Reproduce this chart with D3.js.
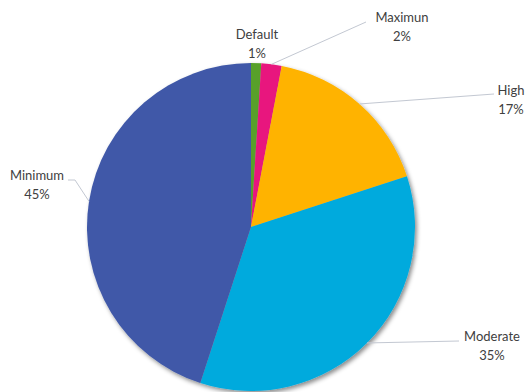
<!DOCTYPE html>
<html>
<head>
<meta charset="utf-8">
<script src="https://cdn.jsdelivr.net/npm/d3@7"></script>
<style>
  html, body { margin: 0; padding: 0; background: #fff; }
  svg { display: block; }
  .lbl { font-family: Lato, "Open Sans", sans-serif; font-size: 13px; fill: #404040; }
</style>
</head>
<body>
<svg id="chart" width="526" height="392"></svg>
<script>
// Slice data, clockwise from 12 o'clock
const categories = ["Default", "Maximun", "High", "Moderate", "Minimum"];
const shares = [1, 2, 17, 35, 45];
const colors = ["#58a02c", "#e8177e", "#ffb300", "#00aadd", "#4059a8"];

const width = 526, height = 392;
const cx = 251, cy = 227, radius = 164;

const svg = d3.select("#chart");

// soft drop shadow under the pie
const defs = svg.append("defs");
const f = defs.append("filter").attr("id", "shadow")
  .attr("x", "-10%").attr("y", "-10%").attr("width", "120%").attr("height", "120%");
f.append("feDropShadow").attr("dx", 2).attr("dy", 2.5).attr("stdDeviation", 2)
  .attr("flood-color", "#000").attr("flood-opacity", 0.45);

const data = categories.map((c, i) => ({ name: c, value: shares[i], color: colors[i] }));
const pie = d3.pie().sort(null).value(d => d.value);
const arc = d3.arc().innerRadius(0).outerRadius(radius);
const arcs = pie(data);

const g = svg.append("g").attr("transform", `translate(${cx},${cy})`);
g.append("g").attr("filter", "url(#shadow)")
  .selectAll("path").data(arcs).join("path")
  .attr("d", arc)
  .attr("fill", d => d.data.color);

// label anchor points (text centre) and leader elbows, per slice
const labelPos = {
  "Default":  { x: 257, y: 39 },
  "Maximun":  { x: 402, y: 22 },
  "High":     { x: 511, y: 95 },
  "Moderate": { x: 492, y: 341 },
  "Minimum":  { x: 37,  y: 180 }
};
const leaders = {
  "Maximun":  { end: [366, 22], side: -1 },
  "High":     { end: [494, 94], side: -1 },
  "Moderate": { end: [459, 341], side: -1 },
  "Minimum":  { end: [68, 180], side: 1, elbow: [75, 180] }
};

const lineG = svg.append("g");
arcs.forEach(a => {
  const L = leaders[a.data.name];
  if (!L) return;
  const mid = (a.startAngle + a.endAngle) / 2;
  const p0 = [cx + Math.sin(mid) * radius, cy - Math.cos(mid) * radius];
  const pts = [p0];
  if (L.elbow) pts.push(L.elbow);
  pts.push(L.end);
  lineG.append("path")
    .attr("d", d3.line()(pts))
    .attr("fill", "none")
    .attr("stroke", "#c3c8d2")
    .attr("stroke-width", 1);
});

const textG = svg.append("g");
arcs.forEach(a => {
  const p = labelPos[a.data.name];
  const t = textG.append("text").attr("class", "lbl").attr("text-anchor", "middle")
    .attr("x", p.x).attr("y", p.y);
  t.append("tspan").attr("x", p.x).attr("dy", 0).text(a.data.name);
  t.append("tspan").attr("x", p.x).attr("dy", 19).text(d3.format(".0%")(a.data.value / 100));
});
</script>
</body>
</html>
